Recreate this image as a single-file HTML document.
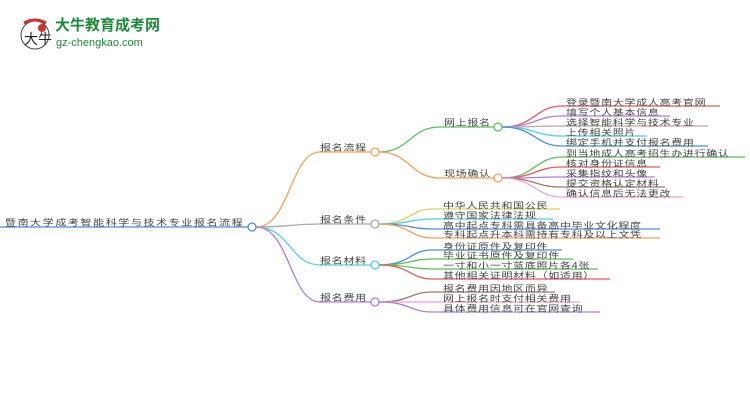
<!DOCTYPE html>
<html><head><meta charset="utf-8"><style>
body{margin:0;background:#fff;width:750px;height:410px;overflow:hidden}
svg text{font-family:"Liberation Sans","Noto Sans CJK SC",sans-serif;font-size:11px;fill:#444;letter-spacing:0.7px;transform-box:fill-box;transform-origin:50% 100%;transform:scaleY(0.8)}
svg text.n{transform:none;letter-spacing:0}
</style></head><body>
<svg width="750" height="410" viewBox="0 0 750 410" xmlns="http://www.w3.org/2000/svg" fill="none" stroke-width="1.3">
<!-- logo -->
<circle cx="35" cy="35" r="14" fill="#fff" stroke="#444" stroke-width="1"/>
<path d="M24 23 Q35 17 46 23" stroke="#c33" stroke-width="3"/>
<circle cx="42" cy="28" r="4" fill="#c33" stroke="none"/>
<text class="n" x="24" y="44" style="font-size:14px;fill:#222">大牛</text>
<text class="n" x="55" y="30" style="font-size:15px;font-weight:bold;fill:#1d8a3a">大牛教育成考网</text>
<text class="n" x="56" y="46" style="font-size:11px;fill:#1d8a3a">gz-chengkao.com</text>

<!-- root -->
<path d="M0 227 H248" stroke="#4a90d9"/>
<text x="5" y="225" style="letter-spacing:1.6px">暨南大学成考智能科学与技术专业报名流程</text>
<!-- branches -->
<path d="M256 227 C290 227 290 152 320 152 H371" stroke="#f5a05a"/>
<path d="M256 227 C290 227 290 224 320 224 H371" stroke="#aaa"/>
<path d="M256 227 C290 227 290 265 320 265 H371" stroke="#4fd1e0"/>
<path d="M256 227 C290 227 290 302 320 302 H371" stroke="#b07ed8"/>
<circle cx="252" cy="227" r="4" fill="#fff" stroke="#4a90d9"/>
<text x="320" y="150">报名流程</text>
<text x="320" y="222">报名条件</text>
<text x="320" y="263">报名材料</text>
<text x="320" y="300">报名费用</text>

<!-- level2 -->
<path d="M379 152 C410 152 410 127 440 127 H494" stroke="#5bbf5b"/>
<path d="M379 152 C410 152 410 178 440 178 H494" stroke="#f5a05a"/>
<circle cx="375" cy="152" r="4" fill="#fff" stroke="#f5a05a"/>
<text x="444" y="125">网上报名</text>
<text x="444" y="176">现场确认</text>

<!-- 网上报名 leaves -->
<path d="M502 127 C535 127 535 106 562 106 H720" stroke="#e85a5a"/>
<path d="M502 127 C535 127 535 116 562 116 H670" stroke="#b07ed8"/>
<path d="M502 127 C535 127 535 126 562 126 H708" stroke="#c9a0a0"/>
<path d="M502 127 C535 127 535 136 562 136 H647" stroke="#4fd1e0"/>
<path d="M502 127 C535 127 535 146 562 146 H708" stroke="#4a90d9"/>
<circle cx="498" cy="127" r="4" fill="#fff" stroke="#5bbf5b"/>
<text x="566" y="105">登录暨南大学成人高考官网</text>
<text x="566" y="115">填写个人基本信息</text>
<text x="566" y="125">选择智能科学与技术专业</text>
<text x="566" y="135">上传相关照片</text>
<text x="566" y="145">绑定手机并支付报名费用</text>

<!-- 现场确认 leaves -->
<path d="M502 178 C535 178 535 157 562 157 H745" stroke="#5bbf5b"/>
<path d="M502 178 C535 178 535 167 562 167 H660" stroke="#e85a5a"/>
<path d="M502 178 C535 178 535 177 562 177 H655" stroke="#b07ed8"/>
<path d="M502 178 C535 178 535 187 562 187 H665" stroke="#a0786a"/>
<path d="M502 178 C535 178 535 197 562 197 H683" stroke="#f5a0d0"/>
<circle cx="498" cy="178" r="4" fill="#fff" stroke="#f5a05a"/>
<text x="566" y="156">到当地成人高考招生办进行确认</text>
<text x="566" y="166">核对身份证信息</text>
<text x="566" y="176">采集指纹和头像</text>
<text x="566" y="186">提交资格认定材料</text>
<text x="566" y="196">确认信息后无法更改</text>

<!-- 条件 -->
<path d="M379 224 C410 224 410 209 432 209 H560" stroke="#d4d46a"/>
<path d="M379 224 C410 224 410 219 432 219 H553" stroke="#4fd1e0"/>
<path d="M379 224 C410 224 410 229 432 229 H660" stroke="#4a90d9"/>
<path d="M379 224 C410 224 410 238 432 238 H660" stroke="#f5a05a"/>
<circle cx="375" cy="224" r="4" fill="#fff" stroke="#aaa"/>
<text x="443" y="208">中华人民共和国公民</text>
<text x="443" y="218">遵守国家法律法规</text>
<text x="443" y="228">高中起点专科需具备高中毕业文化程度</text>
<text x="443" y="237">专科起点升本科需持有专科及以上文凭</text>

<!-- 材料 -->
<path d="M379 265 C410 265 410 250 432 250 H562" stroke="#4a90d9"/>
<path d="M379 265 C410 265 410 259 432 259 H573" stroke="#5bbf5b"/>
<path d="M379 265 C410 265 410 269 432 269 H598" stroke="#5bbf5b"/>
<path d="M379 265 C410 265 410 279 432 279 H610" stroke="#e85a5a"/>
<circle cx="375" cy="265" r="4" fill="#fff" stroke="#4fd1e0"/>
<text x="443" y="249">身份证原件及复印件</text>
<text x="443" y="258">毕业证书原件及复印件</text>
<text x="443" y="268">一寸和小一寸蓝底照片各4张</text>
<text x="443" y="278">其他相关证明材料（如适用）</text>

<!-- 费用 -->
<path d="M379 302 C410 302 410 292 432 292 H555" stroke="#a0786a"/>
<path d="M379 302 C410 302 410 302 432 302 H580" stroke="#f5a0d0"/>
<path d="M379 302 C410 302 410 312 432 312 H600" stroke="#b07ed8"/>
<circle cx="375" cy="302" r="4" fill="#fff" stroke="#b07ed8"/>
<text x="443" y="291">报名费用因地区而异</text>
<text x="443" y="301">网上报名时支付相关费用</text>
<text x="443" y="311">具体费用信息可在官网查询</text>
</svg>
</body></html>
